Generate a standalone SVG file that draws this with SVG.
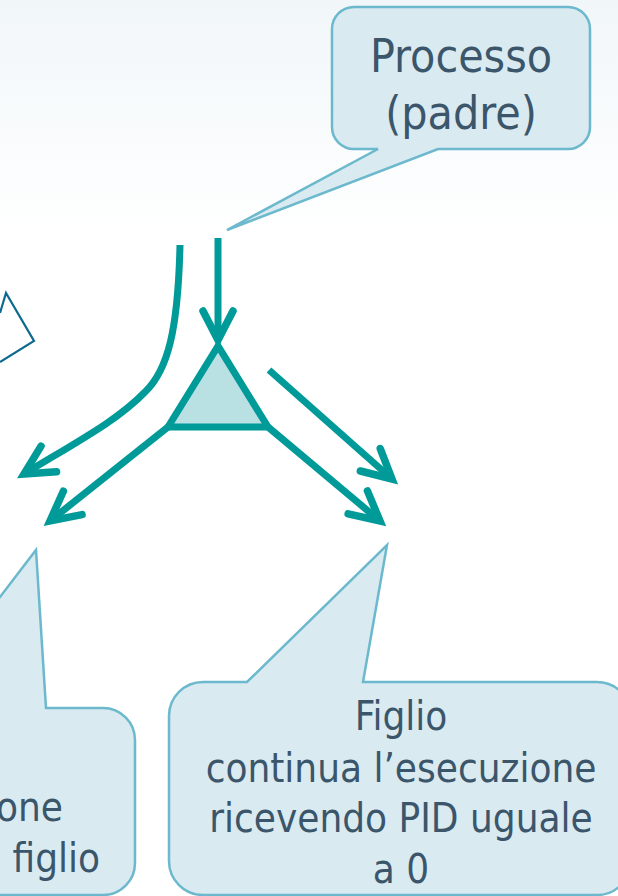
<svg xmlns="http://www.w3.org/2000/svg" width="618" height="896" viewBox="0 0 618 896">
  <defs>
    <linearGradient id="bg" x1="0" y1="0" x2="0" y2="1">
      <stop offset="0" stop-color="#f1f6f9"/>
      <stop offset="0.5" stop-color="#f8fbfc"/>
      <stop offset="1" stop-color="#ffffff"/>
    </linearGradient>
    <marker id="ah" markerUnits="userSpaceOnUse" markerWidth="60" markerHeight="60" viewBox="-45 -30 60 60" refX="0" refY="0" orient="auto" overflow="visible">
      <path d="M-29,-15 L0,0 L-29,15" fill="none" stroke="#009a99" stroke-width="7.5" stroke-linecap="round" stroke-linejoin="miter" stroke-miterlimit="10"/>
    </marker>
    <style>
      .callout { fill: #daeaf1; stroke: #6cb9cd; stroke-width: 2.5; stroke-linejoin: miter; }
      .txt { font-family: 'DejaVu Sans Condensed', 'DejaVu Sans', sans-serif; font-stretch: condensed; fill: #3b566b; }
      .conn { fill: none; stroke: #009a99; stroke-width: 7; stroke-linecap: butt; }
    </style>
  </defs>

  <rect x="0" y="0" width="618" height="896" fill="#ffffff"/>
  <rect x="0" y="0" width="618" height="240" fill="url(#bg)"/>

  <g id="fragment">
    <polyline points="0,313 6,293 34,341 0,362" fill="none" stroke="#0c6a8e" stroke-width="2.2"/>
  </g>

  <g id="callout-processo">
    <path class="callout" d="M354,7 H568 A22,22 0 0 1 590,29 V127 A22,22 0 0 1 568,149 H438 L227,230 L378,149 H354 A22,22 0 0 1 332,127 V29 A22,22 0 0 1 354,7 Z"/>
    <text class="txt" font-size="46" text-anchor="middle" x="461" y="72">Processo</text>
    <text class="txt" font-size="46" text-anchor="middle" x="461" y="129">(padre)</text>
  </g>

  <g id="callout-padre">
    <path class="callout" d="M-300,708 H-85 L36,550 L46,708 H103 A32,32 0 0 1 135,740 V863 A32,32 0 0 1 103,895 H-300 Z"/>
    <text class="txt" font-size="40" text-anchor="end" x="63" y="821">one</text>
    <text class="txt" font-size="40" text-anchor="end" x="100" y="872">figlio</text>
  </g>

  <g id="callout-figlio">
    <path class="callout" d="M203,682 H247 L387,545 L363,682 H597 A34,34 0 0 1 631,716 V861 A34,34 0 0 1 597,895 H203 A34,34 0 0 1 169,861 V716 A34,34 0 0 1 203,682 Z"/>
    <text class="txt" font-size="40" text-anchor="middle" x="401" y="730">Figlio</text>
    <text class="txt" font-size="40" text-anchor="middle" x="401" y="782">continua l’esecuzione</text>
    <text class="txt" font-size="40" text-anchor="middle" x="401" y="832">ricevendo PID uguale</text>
    <text class="txt" font-size="40" text-anchor="middle" x="401" y="883">a 0</text>
  </g>

  <g id="fork">
    <polygon points="218,346 168,427 268,427" fill="#b9e0e2" stroke="#009a99" stroke-width="7" stroke-linejoin="miter"/>
  </g>

  <g id="connectors">
    <path class="conn" d="M218,238 V340" marker-end="url(#ah)"/>
    <path class="conn" d="M180,245 C178,330 168,370 145,392 C118,420 80,440 24,474" marker-end="url(#ah)"/>
    <path class="conn" d="M168,427 L50,521" marker-end="url(#ah)"/>
    <path class="conn" d="M268,427 L380,521" marker-end="url(#ah)"/>
    <path class="conn" d="M269,370 L392,479" marker-end="url(#ah)"/>
  </g>
</svg>
